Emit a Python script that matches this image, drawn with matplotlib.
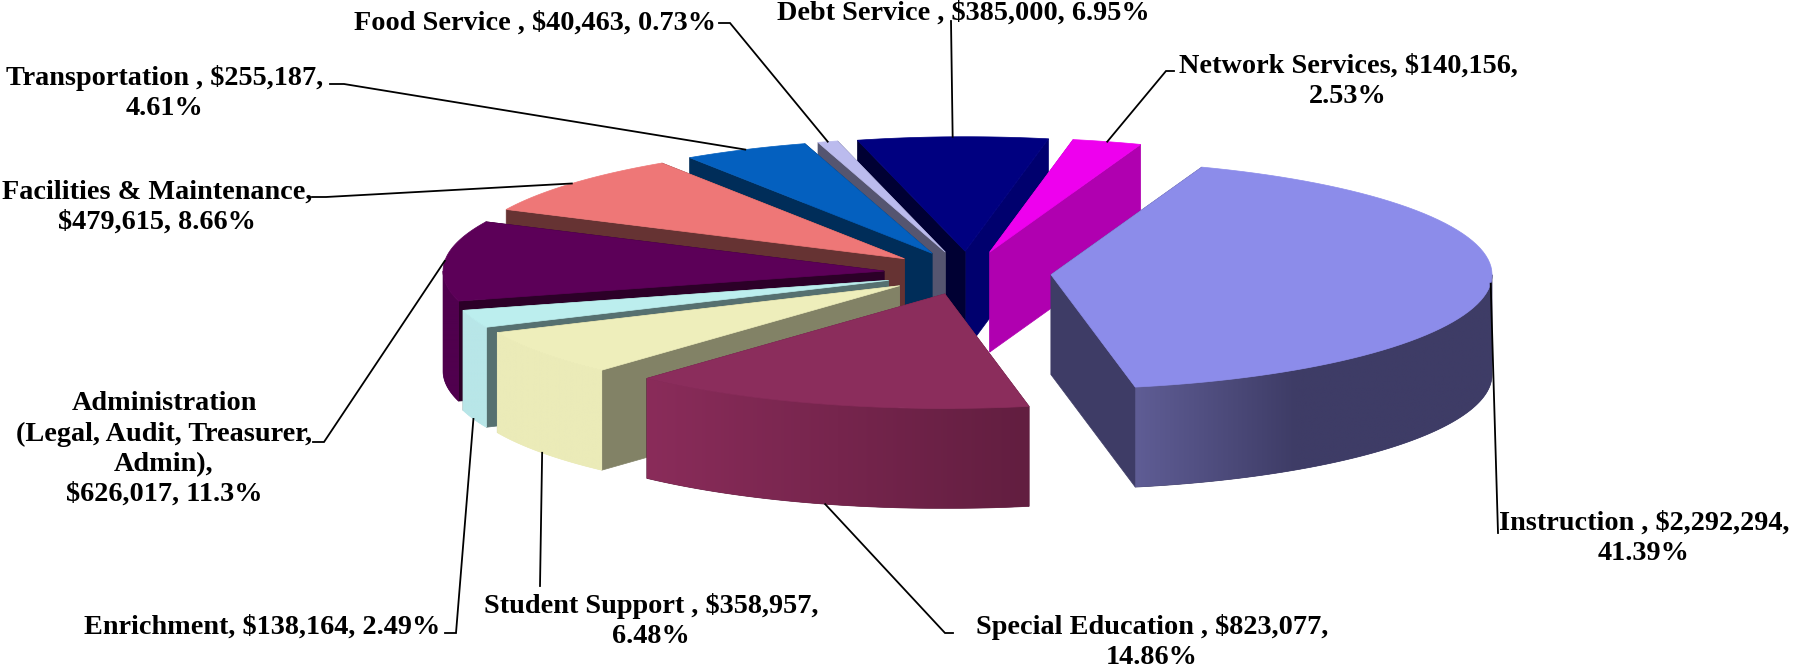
import matplotlib
matplotlib.use("Agg")
import matplotlib.pyplot as plt
import matplotlib.colors as mc
import numpy as np

# budget values, clockwise from the first slice
categories = ["Instruction", "Special Education", "Student Support", "Enrichment",
              "Administration", "Facilities & Maintenance", "Transportation",
              "Food Service", "Debt Service", "Network Services"]
values = [2292294, 823077, 358957, 138164, 626017, 479615, 255187, 40463, 385000, 140156]
label_texts = ["Instruction , $2,292,294,\n41.39%",
               "Special Education , $823,077,\n14.86%",
               "Student Support , $358,957,\n6.48%",
               "Enrichment, $138,164, 2.49%",
               "Administration\n(Legal, Audit, Treasurer,\nAdmin),\n$626,017, 11.3%",
               "Facilities & Maintenance,\n$479,615, 8.66%",
               "Transportation , $255,187,\n4.61%",
               "Food Service , $40,463, 0.73%",
               "Debt Service , $385,000, 6.95%",
               "Network Services, $140,156,\n2.53%"]

# colours: top, start wall, end wall, rim left, rim right
top_colors = ["#8c8cea", "#8b2d5c", "#eeeebb", "#bceeee", "#5c0058",
              "#ee7777", "#0460bf", "#bbbbee", "#000080", "#ee00ee"]
start_wall = ["#3e3c66", "#5a1c3c", "#828266", "#567070", "#2c0028",
              "#663333", "#002d59", "#555570", "#000033", "#b000b0"]
end_wall = ["#3e3c66", "#5a1c3c", "#828266", "#567070", "#2c0028",
            "#663333", "#002d59", "#555570", "#00006e", "#b000b0"]
rim_left = ["#5f5d95", "#8a2c5a", "#ebebb8", "#b8e6e8", "#50004e",
            "#663333", "#002d59", "#555570", "#00006e", "#b000b0"]
rim_right = ["#3e3c66", "#621e40", "#ebebb8", "#b8e6e8", "#50004e",
             "#663333", "#002d59", "#555570", "#00006e", "#b000b0"]
rim_span = [0.45, 1, 1, 1, 1, 1, 1, 1, 1, 1]

# back to front
draw_order = [8, 9, 7, 6, 5, 4, 3, 2, 1, 0]

# pie geometry in figure pixels
cx, cy = 967.5, 273
rx, ry = 441, 114.5
depth = 100
explode = 0.19
first_angle = 20

# label centres and leader elbows, figure pixels
label_pos = [(1644, 538), (1152, 642), (651, 621), (262, 627), (164, 449),
             (157, 207), (165, 93), (535, 23), (963, 13), (1348, 81)]
elbows = [[(1498, 533)], [(953, 633), (945, 633)], [(540, 586)], [(445, 633), (456, 633)],
          [(313, 442), (324, 442)], [(312, 197), (326, 197)], [(330, 84), (344, 84)],
          [(719, 23), (730, 23)], [(951, 21)], [(1174, 71), (1166, 71)]]

plt.rcParams["font.family"] = ["Liberation Serif", "DejaVu Serif"]

fig = plt.figure(figsize=(17.96, 6.70), dpi=100)
ax = fig.add_axes([0, 0, 1, 1])


def rim(ox, oy, theta, scale=1.0):
    t = np.radians(theta)
    return ox + scale * rx * np.sin(t), oy - scale * ry * np.cos(t)


shares = np.array(values) / sum(values) * 360
starts = first_angle + np.concatenate(([0], np.cumsum(shares)[:-1]))
ends = starts + shares

z = 1
for i in draw_order:
    th0, th1 = starts[i], ends[i]
    mid = (th0 + th1) / 2
    ox, oy = rim(cx, cy, mid, explode)

    # flat side walls, the one further back first
    walls = [(th0, start_wall[i]), (th1, end_wall[i])]
    walls.sort(key=lambda w: -np.cos(np.radians(w[0])))
    for th, col in walls:
        px, py = rim(ox, oy, th)
        ax.fill([ox, px, px, ox], [oy, py, py + depth, oy + depth], color=col, lw=0.5, zorder=z)
        z += 1

    # outer wall, only the part facing us, shaded left to right
    a0, a1 = max(th0, 90), min(th1, 270)
    if a1 > a0:
        arc = np.linspace(a0, a1, 120)
        wx, wy = rim(ox, oy, arc)
        outline = ax.fill(np.r_[wx, wx[::-1]], np.r_[wy, wy[::-1] + depth], color=rim_right[i], lw=0.5, zorder=z)[0]
        z += 1
        frac = np.clip(np.linspace(0, 1, 256) / rim_span[i], 0, 1)[:, None]
        shade = (1 - frac) * np.array(mc.to_rgb(rim_left[i])) + frac * np.array(mc.to_rgb(rim_right[i]))
        img = ax.imshow(shade[None, :, :], extent=(wx.min(), wx.max(), wy.max() + depth, wy.min()),
                        aspect="auto", interpolation="bilinear", zorder=z)
        img.set_clip_path(outline)
        z += 1

    # top face
    arc = np.linspace(th0, th1, 80)
    ex, ey = rim(ox, oy, arc)
    ax.fill(np.r_[ox, ex], np.r_[oy, ey], color=top_colors[i], lw=0.5, zorder=z)
    z += 1

# labels and leader lines
for i in range(len(categories)):
    mid = (starts[i] + ends[i]) / 2
    ax_x, ax_y = rim(cx, cy, mid, 1 + explode)
    if np.cos(np.radians(mid)) < -0.3:
        ax_y += depth
    pts = elbows[i] + [(ax_x, ax_y)]
    ax.plot([p[0] for p in pts], [p[1] for p in pts], color="black", lw=1.3, zorder=z,
            solid_joinstyle="miter")
    ax.text(label_pos[i][0], label_pos[i][1], label_texts[i], ha="center", va="center",
            fontsize=20.3, fontweight="bold", color="black", linespacing=1.27, zorder=z + 1)

ax.set_xlim(0, 1796)
ax.set_ylim(670, 0)
ax.axis("off")

plt.savefig("out.png", dpi=100)
